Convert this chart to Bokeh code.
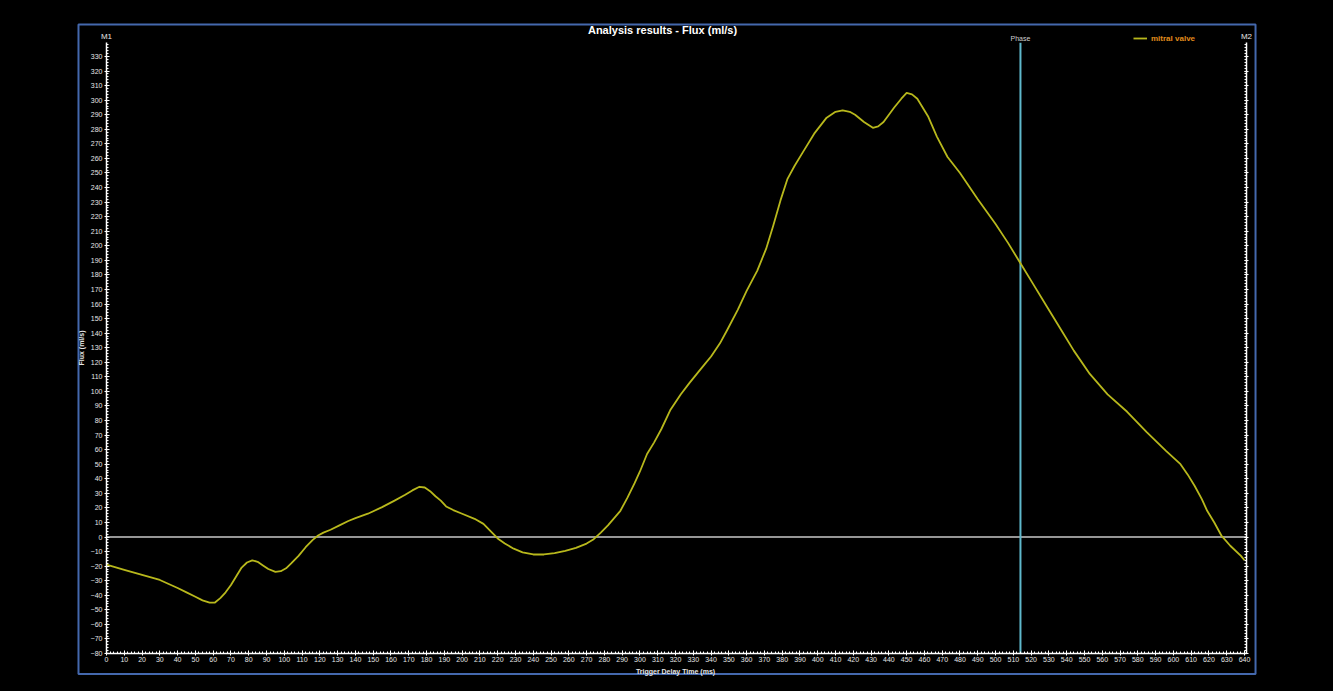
from bokeh.plotting import figure
from bokeh.models import (Range1d, LinearAxis, SingleIntervalTicker, Label,
                          BoxAnnotation, Legend, LegendItem, CustomJSTickFormatter)
from bokeh.embed import file_html
from bokeh.resources import INLINE

# ---- data ----
time_ms = [0, 10, 20, 30, 40, 45, 50, 54, 58, 61, 64, 67, 70, 73, 76, 79, 82, 85, 88, 91,
           95, 98, 101, 104, 108, 112, 116, 119, 122, 126, 131, 136, 140, 147, 155, 162,
           168, 172, 176, 179, 182, 185, 188, 191, 195, 200, 207, 212, 216, 220, 224, 229,
           234, 240, 246, 252, 258, 264, 270, 274, 278, 282, 289, 293, 297, 300, 304, 308,
           312, 317, 323, 328, 332, 336, 340, 345, 349, 355, 360, 366, 371, 375, 379, 383,
           387, 392, 398, 405, 410, 414, 418, 421, 426, 431, 434, 437, 440, 443, 447, 450,
           453, 456, 459, 462, 467, 473, 480, 490, 500, 507, 514, 521, 529, 537, 544, 553,
           563, 574, 585, 596, 604, 608, 612, 616, 619, 623, 627, 632, 638, 640]
flux_mitral = [-19, -22.5, -26, -29.5, -35, -38, -41, -43.5, -45, -45, -42, -38, -33, -27,
               -21, -17.5, -16, -17, -19.5, -22, -24, -23.5, -21.5, -18, -13, -7, -2, 1, 3,
               5, 8, 11, 13, 16, 20.5, 25, 29, 32, 34.5, 34, 31.5, 28, 25, 21, 18.5, 16,
               12.5, 9, 4, -1, -4.5, -8, -10.5, -12, -12, -11, -9.5, -7.5, -4.5, -1.5, 3, 8,
               18, 27, 37, 45, 57, 65, 74, 87, 98, 106, 112, 118, 124, 133, 142, 156, 169,
               183, 198, 214, 231, 246, 255, 265, 277, 288, 292, 293, 292, 290, 285, 281,
               282, 285, 290, 295, 301, 305, 304, 301, 295, 289, 275, 261, 250, 232, 215,
               202, 188, 174, 158, 142, 128, 112, 98, 86, 72, 59, 50, 43, 35, 26, 18, 10, 1,
               -6, -13, -16]
phase_ms = 514
series_name = "mitral valve"
title_text = "Analysis results - Flux (ml/s)"
x_label = "Trigger Delay Time (ms)"
y_label = "Flux (ml/s)"
x_bounds = (0, 641.1)
y_bounds = (-80, 339.5)

FONT = "Liberation Sans"
TXT = "#e6e6e6"

p = figure(width=1330, height=690, output_backend="svg", toolbar_location=None,
           x_range=Range1d(-37.117, 665.87), y_range=Range1d(-95.8, 368.46),
           x_axis_location=None, y_axis_location=None,
           background_fill_color="black", border_fill_color="black",
           min_border_left=40, min_border_right=40, min_border_top=0, min_border_bottom=14)
p.outline_line_color = None
p.grid.visible = False

def style_axis(ax):
    ax.axis_line_color = "white"
    ax.axis_line_width = 1.5
    ax.major_tick_line_color = "white"
    ax.minor_tick_line_color = "white"
    ax.major_tick_in = 3
    ax.major_tick_out = 2
    ax.minor_tick_in = 2
    ax.minor_tick_out = 0
    ax.major_label_text_color = TXT
    ax.major_label_text_font = FONT
    ax.major_label_text_font_size = "7px"
    ax.major_label_standoff = 2
    ax.axis_label_text_color = TXT
    ax.axis_label_text_font = FONT
    ax.axis_label_text_font_size = "7px"
    ax.axis_label_text_font_style = "bold"
    ax.axis_label_standoff = 3

xax = LinearAxis(ticker=SingleIntervalTicker(interval=10, num_minor_ticks=5),
                 fixed_location=y_bounds[0], bounds=x_bounds)
style_axis(xax)
p.add_layout(xax, "below")

yax = LinearAxis(ticker=SingleIntervalTicker(interval=10, num_minor_ticks=5),
                 axis_label=y_label, fixed_location=x_bounds[0], bounds=y_bounds)
style_axis(yax)
p.add_layout(yax, "left")

rax = LinearAxis(ticker=SingleIntervalTicker(interval=10, num_minor_ticks=5),
                 fixed_location=x_bounds[1], bounds=y_bounds,
                 formatter=CustomJSTickFormatter(code="return ''"))
style_axis(rax)
rax.major_tick_in = 2
rax.major_tick_out = 2
p.add_layout(rax, "right")

# outer blue frame
p.add_layout(BoxAnnotation(left=-15.75, right=646.2, top=352.0, bottom=-94.0,
                           fill_alpha=0, line_color="#4468ad", line_alpha=1.0,
                           line_width=2, level="underlay"))

# zero line and phase marker
p.segment(x0=[x_bounds[0]], y0=[0], x1=[x_bounds[1]], y1=[0], line_color="#c8c8c8", line_width=1.5)
p.segment(x0=[phase_ms], y0=[y_bounds[0]], x1=[phase_ms], y1=[y_bounds[1]],
          line_color="#5fb8cc", line_width=2)

r = p.line(time_ms, flux_mitral, line_color="#b8b81c", line_width=1.8, line_join="round")

legend = Legend(items=[LegendItem(label=series_name, renderers=[r])],
                location=(1093, 633), orientation="horizontal",
                background_fill_alpha=0, border_line_color=None,
                padding=0, margin=0, glyph_width=14, glyph_height=10, label_height=10,
                label_standoff=4, label_text_color="#e08c1c", label_text_font=FONT,
                label_text_font_size="8px", label_text_font_style="bold")
p.add_layout(legend, "center")

p.add_layout(Label(x=312.7, y=347.9, text=title_text, text_align="center", text_baseline="middle",
                   text_color="white", text_font=FONT, text_font_size="11px", text_font_style="bold"))
p.add_layout(Label(x=x_bounds[0], y=343.7, text="M1", text_align="center", text_baseline="middle",
                   text_color=TXT, text_font=FONT, text_font_size="8px"))
p.add_layout(Label(x=x_bounds[1], y=343.7, text="M2", text_align="center", text_baseline="middle",
                   text_color=TXT, text_font=FONT, text_font_size="8px"))
p.add_layout(Label(x=phase_ms, y=342.4, text="Phase", text_align="center", text_baseline="middle",
                   text_color="#cfcfcf", text_font=FONT, text_font_size="7px"))
p.add_layout(Label(x=320.0, y=-92.4, text=x_label, text_align="center", text_baseline="middle",
                   text_color=TXT, text_font=FONT, text_font_size="7px", text_font_style="bold"))

html = file_html(p, INLINE)
html = html.replace("<head>", "<head><style>html,body{background:#000;margin:0;}</style>", 1)
open("out.html", "w").write(html)
